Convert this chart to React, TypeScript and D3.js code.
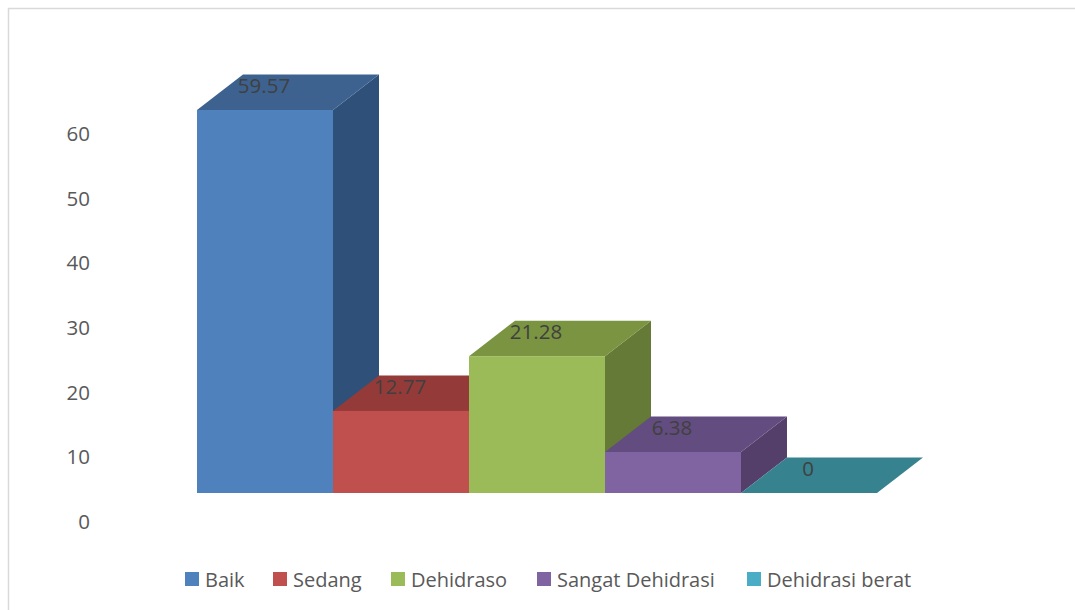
import React from "react";
import * as d3 from "d3";

const categories = ["Baik", "Sedang", "Dehidraso", "Sangat Dehidrasi", "Dehidrasi berat"];
const values = [59.57, 12.77, 21.28, 6.38, 0];
const valueLabels = ["59.57", "12.77", "21.28", "6.38", "0"];
const tickValues = [0, 10, 20, 30, 40, 50, 60];
const frontColors = ["#4F81BD", "#C0504D", "#9BBB59", "#8064A2", "#37828F"];
const topColors = ["#3D6290", "#943B39", "#7A9441", "#634C7F", "#37828F"];
const sideColors = ["#2F5179", "#7E312F", "#647A36", "#533F6A", "#2C6B76"];
const legendColors = ["#4F81BD", "#C0504D", "#9BBB59", "#8064A2", "#4BACC6"];
const legendX = [185, 273, 391, 537, 747];

export default function App() {
  const W = 1075;
  const H = 610;
  const x = d3.scaleBand<string>().domain(categories).range([197, 877]).padding(0);
  const y = d3.scaleLinear().domain([0, 59.57]).range([493, 110]);
  const axisY = d3.scaleLinear().domain([0, 60]).range([521, 133]);
  const dx = 46;
  const dy = -35.5;
  const bw = x.bandwidth();
  const font = "'Open Sans', sans-serif";

  return (
    <svg
      width={W}
      height={H}
      style={{ position: "absolute", left: 0, top: 0, background: "#fff" }}
    >
      <rect x={8.5} y={8.5} width={1090} height={620} fill="#fff" stroke="#d9d9d9" strokeWidth={1.5} />
      {tickValues.map((t) => (
        <text
          key={t}
          x={90}
          y={axisY(t)}
          textAnchor="end"
          dominantBaseline="central"
          fontFamily={font}
          fontSize={20.5}
          fill="#595959"
        >
          {t}
        </text>
      ))}
      {categories.map((c, i) => {
        const x0 = x(c)!;
        const x1 = x0 + bw;
        const yb = y(0);
        const yt = y(values[i]);
        const top = d3.path();
        top.moveTo(x0, yt);
        top.lineTo(x1, yt);
        top.lineTo(x1 + dx, yt + dy);
        top.lineTo(x0 + dx, yt + dy);
        top.closePath();
        const side = d3.path();
        side.moveTo(x1, yt);
        side.lineTo(x1 + dx, yt + dy);
        side.lineTo(x1 + dx, yb + dy);
        side.lineTo(x1, yb);
        side.closePath();
        return (
          <g key={c}>
            {values[i] > 0 && <path d={side.toString()} fill={sideColors[i]} />}
            <path d={top.toString()} fill={topColors[i]} />
            {values[i] > 0 && (
              <rect x={x0} y={yt} width={bw} height={yb - yt} fill={frontColors[i]} />
            )}
          </g>
        );
      })}
      {categories.map((c, i) => (
        <text
          key={c}
          x={x(c)! + bw / 2 - 1}
          y={y(values[i]) - 25}
          textAnchor="middle"
          dominantBaseline="central"
          fontFamily={font}
          fontSize={20.5}
          fill="#404040"
        >
          {valueLabels[i]}
        </text>
      ))}
      {categories.map((c, i) => (
        <g key={c} transform={`translate(${legendX[i]},579)`}>
          <rect x={0} y={-7} width={14} height={14} fill={legendColors[i]} />
          <text
            x={20}
            y={0}
            dominantBaseline="central"
            fontFamily={font}
            fontSize={20}
            fill="#595959"
          >
            {c}
          </text>
        </g>
      ))}
    </svg>
  );
}
